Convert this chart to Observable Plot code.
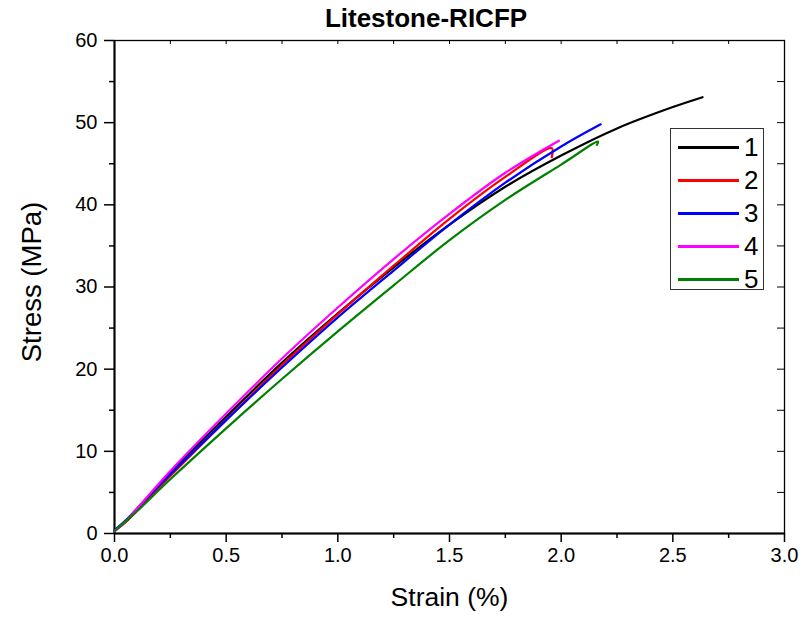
<!DOCTYPE html>
<html>
<head>
<meta charset="utf-8">
<script src="https://cdn.jsdelivr.net/npm/d3@7"></script>
<script src="https://cdn.jsdelivr.net/npm/@observablehq/plot@0.6"></script>
<style>
  html, body { margin: 0; padding: 0; background: #fff; }
  #wrap { position: relative; width: 800px; height: 621px; font-family: "Liberation Sans", Arial, sans-serif; }
  .title { position: absolute; top: 3px; left: 226px; width: 400px; text-align: center; font-weight: bold; font-size: 26px; }
  .xlabel { position: absolute; top: 582px; left: 0; width: 899px; text-align: center; font-size: 26.5px; }
  .ylabel { position: absolute; left: 32px; top: 282px; font-size: 27.5px; transform: translate(-50%, -50%) rotate(-90deg); white-space: nowrap; }
  .legend { position: absolute; left: 670px; top: 128px; width: 94px; height: 162px; border: 1px solid #333; box-sizing: border-box; background: #fff; }
  .legend .row { position: absolute; left: 7px; height: 30px; display: flex; align-items: center; }
  .legend .sw { width: 61px; height: 3px; }
  .legend .lab { font-size: 26px; margin-left: 5px; line-height: 30px; }
</style>
</head>
<body>
<div id="wrap"></div>
<script>
// ---- data ----
const seriesNames = ["1", "2", "3", "4", "5"];
const seriesColors = ["#000000", "#ff0000", "#0000ff", "#ff00ff", "#008000"];

const strain1 = [0, 0.05, 0.1, 0.25, 0.5, 0.75, 1.0, 1.25, 1.5, 1.75, 2.0, 2.25, 2.5, 2.633];
const stress1 = [0.3, 1.4, 2.8, 7.4, 14.2, 20.8, 26.8, 32.4, 37.6, 42.2, 46.0, 49.3, 51.9, 53.1];

const strain2 = [0, 0.05, 0.1, 0.25, 0.5, 0.75, 1.0, 1.25, 1.5, 1.75, 1.958, 1.958];
const stress2 = [0.3, 1.4, 2.7, 7.0, 13.8, 20.5, 26.7, 32.6, 38.3, 43.4, 46.9, 45.8];

const strain3 = [0, 0.05, 0.1, 0.25, 0.5, 0.75, 1.0, 1.25, 1.5, 1.75, 2.0, 2.177];
const stress3 = [0.4, 1.6, 3.0, 7.2, 13.8, 20.2, 26.3, 32.0, 37.6, 42.7, 47.1, 49.8];

const strain4 = [0, 0.05, 0.1, 0.25, 0.5, 0.75, 1.0, 1.25, 1.5, 1.75, 1.99];
const stress4 = [0.3, 1.5, 3.0, 7.6, 14.6, 21.3, 27.5, 33.4, 38.9, 43.9, 47.8];

const strain5 = [0, 0.05, 0.1, 0.25, 0.5, 0.75, 1.0, 1.25, 1.5, 1.75, 2.0, 2.165, 2.16];
const stress5 = [0.3, 1.5, 2.7, 6.6, 12.8, 18.8, 24.6, 30.2, 35.7, 40.6, 44.9, 47.7, 47.3];

const xMajorTicks = [0, 0.5, 1.0, 1.5, 2.0, 2.5, 3.0];
const xMinorTicks = [0.25, 0.75, 1.25, 1.75, 2.25, 2.75];
const yMajorTicks = [0, 10, 20, 30, 40, 50, 60];
const yMinorTicks = [5, 15, 25, 35, 45, 55];

const titleText = "Litestone-RICFP";
const xLabelText = "Strain (%)";
const yLabelText = "Stress (MPa)";

// ---- build table ----
const strains = [strain1, strain2, strain3, strain4, strain5];
const stresses = [stress1, stress2, stress3, stress4, stress5];
const rows = [];
seriesNames.forEach((s, i) => {
  strains[i].forEach((x, j) => rows.push({series: s, strain: x, stress: stresses[i][j]}));
});

const W = 800, H = 621, mL = 114, mR = 16, mT = 40, mB = 88;
const plotW = W - mL - mR, plotH = H - mT - mB;

const chart = Plot.plot({
  width: W, height: H,
  marginLeft: mL, marginRight: mR, marginTop: mT, marginBottom: mB,
  style: {fontFamily: '"Liberation Sans", Arial, sans-serif', fontSize: "20px", color: "#000", background: "#fff"},
  x: {domain: [0, 3]},
  y: {domain: [0, 60]},
  color: {domain: seriesNames, range: seriesColors},
  marks: [
    Plot.frame({stroke: "#000", strokeWidth: 1.3}),
    Plot.ruleY([0], {stroke: "#000", strokeWidth: 2}),
    Plot.ruleX([0], {stroke: "#000", strokeWidth: 2}),
    Plot.axisX({ticks: xMajorTicks, tickSize: 9, tickPadding: 5, tickFormat: d => d.toFixed(1), label: null, fontSize: 20, strokeWidth: 1.5}),
    Plot.axisX({ticks: xMinorTicks, tickSize: 5, tickFormat: () => "", label: null, strokeWidth: 1.5}),
    Plot.axisY({ticks: yMajorTicks, tickSize: 10, tickPadding: 7, tickFormat: d => String(d), label: null, fontSize: 20, strokeWidth: 1.5}),
    Plot.axisY({ticks: yMinorTicks, tickSize: 5, tickFormat: () => "", label: null, strokeWidth: 1.5}),
    Plot.tickX(xMajorTicks.concat(xMinorTicks), {x: d => d, insetBottom: plotH - 4, stroke: "#000", strokeWidth: 1}),
    Plot.tickY(yMajorTicks.concat(yMinorTicks), {y: d => d, insetLeft: plotW - 7, stroke: "#000", strokeWidth: 1}),
    Plot.line(rows, {x: "strain", y: "stress", z: "series", stroke: "series", strokeWidth: 2.2, curve: "catmull-rom"})
  ]
});

const wrap = document.getElementById("wrap");
wrap.appendChild(chart);

function addDiv(cls, text) {
  const d = document.createElement("div");
  d.className = cls;
  if (text != null) d.textContent = text;
  wrap.appendChild(d);
  return d;
}
addDiv("title", titleText);
addDiv("xlabel", xLabelText);
addDiv("ylabel", yLabelText);

const leg = addDiv("legend");
seriesNames.forEach((s, i) => {
  const r = document.createElement("div");
  r.className = "row";
  r.style.top = (3 + i * 33) + "px";
  const sw = document.createElement("div");
  sw.className = "sw";
  sw.style.background = seriesColors[i];
  const lab = document.createElement("span");
  lab.className = "lab";
  lab.textContent = s;
  r.appendChild(sw); r.appendChild(lab);
  leg.appendChild(r);
});
</script>
</body>
</html>
